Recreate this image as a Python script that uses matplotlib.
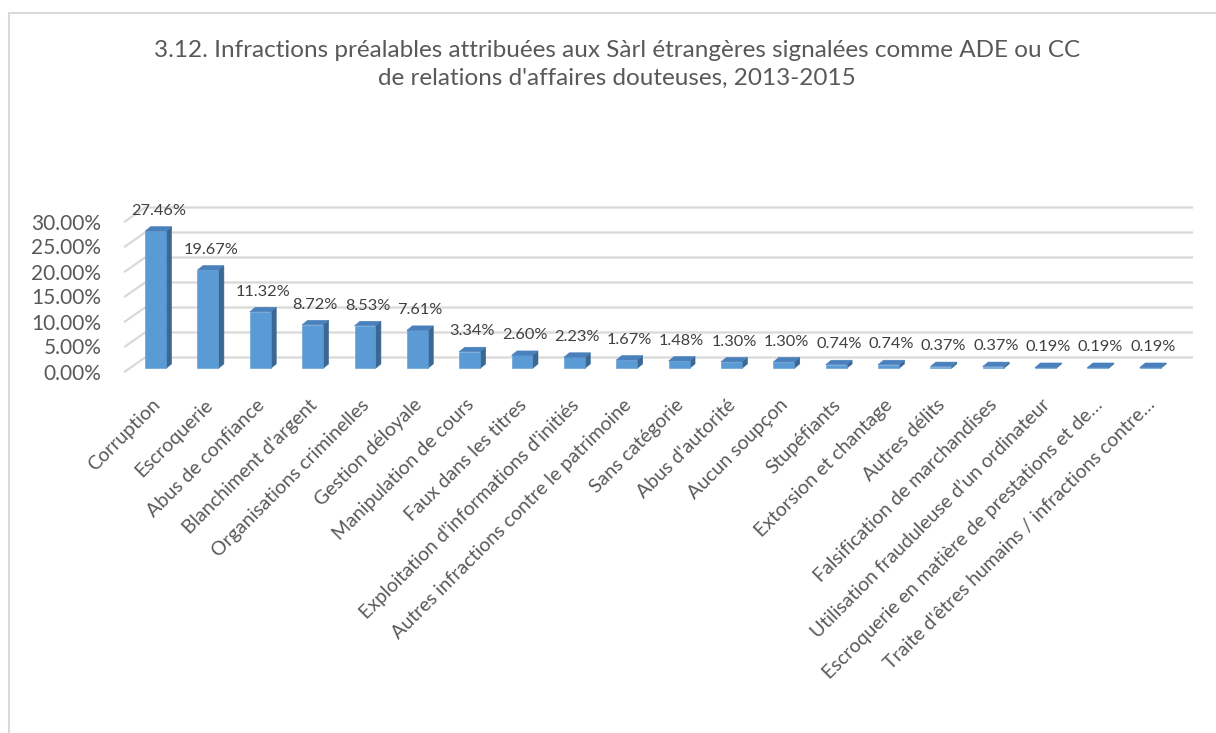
import numpy as np
import matplotlib.pyplot as plt
from matplotlib.patches import Polygon, Rectangle
from matplotlib.lines import Line2D
from matplotlib.transforms import ScaledTranslation

plt.rcParams['font.family'] = ['Lato', 'DejaVu Sans']

categories = [
    "Corruption", "Escroquerie", "Abus de confiance", "Blanchiment d'argent",
    "Organisations criminelles", "Gestion déloyale", "Manipulation de cours",
    "Faux dans les titres", "Exploitation d'informations d'initiés",
    "Autres infractions contre le patrimoine", "Sans catégorie",
    "Abus d'autorité", "Aucun soupçon", "Stupéfiants", "Extorsion et chantage",
    "Autres délits", "Falsification de marchandises",
    "Utilisation frauduleuse d’un ordinateur",
    "Escroquerie en matière de prestations et de…",
    "Traite d'êtres humains / infractions contre…",
]
values = [27.46, 19.67, 11.32, 8.72, 8.53, 7.61, 3.34, 2.60, 2.23, 1.67,
          1.48, 1.30, 1.30, 0.74, 0.74, 0.37, 0.37, 0.19, 0.19, 0.19]
yticks = [0, 5, 10, 15, 20, 25, 30]
title = ("3.12. Infractions préalables attribuées aux Sàrl étrangères signalées comme ADE ou CC\n"
         "de relations d'affaires douteuses, 2013-2015")

W, H = 1216, 733
fig = plt.figure(figsize=(W / 100, H / 100), dpi=100)

# chart border
fig.add_artist(Rectangle((8.5 / W, -0.1), 1.2, 1.1 - 13.5 / H, transform=fig.transFigure,
                         fill=False, edgecolor='#d9d9d9', linewidth=1.5))

# front plane of the 3d plot
ax = fig.add_axes([125 / W, 1 - 371.5 / H, (1172 - 125) / W, 150 / H])
ax.set_xlim(-0.5, len(values) - 0.5)
ax.set_ylim(0, 30)
for s in ax.spines.values():
    s.set_visible(False)
ax.patch.set_visible(False)

floor = np.array([20.0, 14.0])   # depth of the floor in pixels
bar_front, bar_depth = 0.22, np.array([5.5, 4.5])
bw = 0.40
text_col = '#595959'


def px(x, y, d=(0, 0)):
    return ax.transData.transform((x, y)) + np.asarray(d)


# walls: gridlines on the back wall and the left side wall
for t in yticks:
    a = px(-0.5, t)
    b = px(-0.5, t, floor)
    c = px(len(values) - 0.5, t, floor)
    ax.add_line(Line2D([a[0], b[0], c[0]], [a[1], b[1], c[1]], transform=None,
                       color='#d9d9d9', linewidth=1.6, clip_on=False, zorder=1))

# bars
d0 = floor * bar_front
d1 = d0 + bar_depth
for i, v in enumerate(values):
    l, r = i - bw / 2, i + bw / 2
    side = [px(r, 0, d0), px(r, 0, d1), px(r, v, d1), px(r, v, d0)]
    top = [px(l, v, d0), px(r, v, d0), px(r, v, d1), px(l, v, d1)]
    front = [px(l, 0, d0), px(r, 0, d0), px(r, v, d0), px(l, v, d0)]
    for pts, col in [(side, '#3b6893'), (front, '#5b9bd5'), (top, '#4a80bb')]:
        ax.add_patch(Polygon(pts, closed=True, transform=None, facecolor=col,
                             edgecolor=col, linewidth=0.4, clip_on=False, zorder=3))
    lx, ly = px(i, v, d0 + bar_depth / 2)
    ax.text(lx, ly + 18, f"{v:.2f}%", transform=None, ha='center', va='center',
            fontsize=11.8, color='#404040', zorder=4)

ax.set_yticks(yticks, [f"{t:.2f}%" for t in yticks])
ax.set_xticks(range(len(values)), categories)
ax.tick_params(axis='y', length=0, pad=17, labelsize=15, labelcolor=text_col)
ax.tick_params(axis='x', length=0, pad=22, labelsize=14, labelcolor=text_col)
shift = ScaledTranslation(6 / 100, 0, fig.dpi_scale_trans)
for lab in ax.get_xticklabels():
    lab.set_rotation(45)
    lab.set_ha('right')
    lab.set_va('center')
    lab.set_rotation_mode('anchor')
    lab.set_transform(lab.get_transform() + shift)

fig.text(617 / W, 1 - 64 / H, title, ha='center', va='center', fontsize=17.5,
         color=text_col, linespacing=1.4)

fig.savefig('out.png', dpi=100)
